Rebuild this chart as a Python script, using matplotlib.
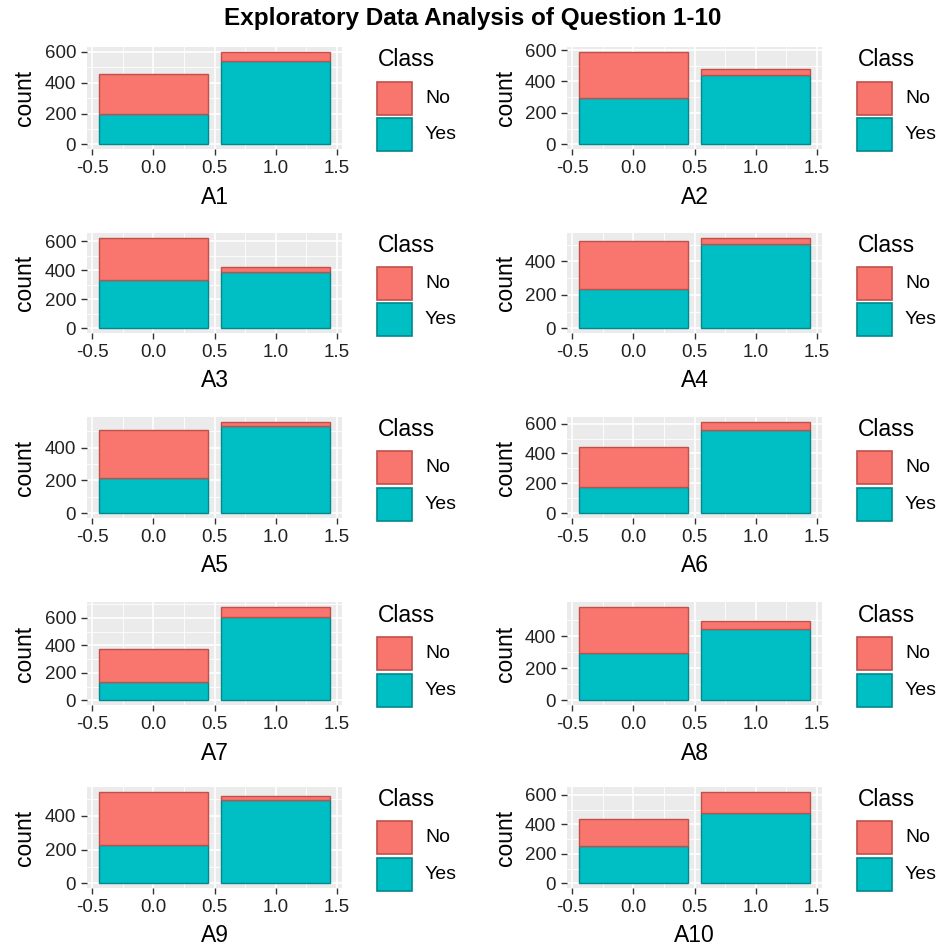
import matplotlib
matplotlib.use("Agg")
import matplotlib.pyplot as plt
from matplotlib.patches import Rectangle
import numpy as np

plt.rcParams['font.family'] = ['Liberation Sans', 'DejaVu Sans']

# ---- data (counts) ----
questions = ["A1", "A2", "A3", "A4", "A5", "A6", "A7", "A8", "A9", "A10"]
x_values = [0, 1]
yes_at_0 = [197, 294, 333, 233, 213, 174, 131, 297, 229, 254]
no_at_0 = [263, 296, 291, 291, 295, 270, 242, 288, 315, 180]
yes_at_1 = [541, 443, 388, 507, 531, 560, 605, 446, 497, 478]
no_at_1 = [61, 35, 34, 36, 27, 53, 77, 49, 20, 144]
ytick_max = [600, 600, 600, 400, 400, 600, 600, 400, 400, 600]
xtick_vals = [-0.5, 0.0, 0.5, 1.0, 1.5]
xtick_labels = ["-0.5", "0.0", "0.5", "1.0", "1.5"]
class_labels = ["No", "Yes"]

COL_NO = "#F8766D"
COL_YES = "#00BFC4"
EDGE_NO = "#C0504A"
EDGE_YES = "#00898C"

W, H = 946, 948
fig = plt.figure(figsize=(W / 100, H / 100), dpi=100)
fig.patch.set_facecolor("white")

cols = [(87, 342), (567, 822)]
rows = [(47, 149), (233, 333), (417, 518), (602, 705), (787, 888)]

def fxy(px, py):
    return px / W, 1 - py / H

for i, q in enumerate(questions):
    r, c = divmod(i, 2)
    x0, x1 = cols[c]
    y0, y1 = rows[r]
    ax = fig.add_axes([x0 / W, 1 - y1 / H, (x1 - x0) / W, (y1 - y0) / H])
    ax.set_facecolor("#EBEBEB")
    for s in ax.spines.values():
        s.set_visible(False)
    yes = [yes_at_0[i], yes_at_1[i]]
    no = [no_at_0[i], no_at_1[i]]
    tot = [a + b for a, b in zip(yes, no)]
    ax.bar(x_values, yes, width=0.9, color=COL_YES, edgecolor=EDGE_YES, linewidth=1.0, zorder=3)
    ax.bar(x_values, no, bottom=yes, width=0.9, color=COL_NO, edgecolor=EDGE_NO, linewidth=1.0, zorder=3)
    m = max(tot)
    ax.set_ylim(-0.05 * m, 1.05 * m)
    ax.set_xlim(-0.545, 1.545)
    yt = list(range(0, ytick_max[i] + 1, 200))
    ax.set_yticks(yt)
    ax.set_yticklabels([str(v) for v in yt])
    ymin = [v + 100 for v in yt if v + 100 < 1.05 * m]
    ax.set_yticks(ymin, minor=True)
    ax.set_xticks(xtick_vals)
    ax.set_xticklabels(xtick_labels)
    ax.set_xticks([-0.25, 0.25, 0.75, 1.25], minor=True)
    ax.grid(which="major", color="white", linewidth=1.2, zorder=0)
    ax.grid(which="minor", color="white", linewidth=0.6, zorder=0)
    ax.set_axisbelow(True)
    ax.tick_params(which="major", length=4.2, width=1.0, color="#333333",
                   labelsize=13.5, labelcolor="#222222", pad=3.6)
    ax.tick_params(which="minor", length=0)

    # axis titles
    cx = (x0 + x1) / 2
    cy = (y0 + y1) / 2
    fig.text(*fxy(cx, y1 + 48), q, ha="center", va="center", fontsize=16.5, color="black")
    fig.text(*fxy(x0 - 62, cy), "count", ha="center", va="center", rotation=90,
             fontsize=16.5, color="black")

    # legend
    kx = x1 + 35
    fig.text(*fxy(x1 + 36, cy - 38), "Class", ha="left", va="center", fontsize=16.5, color="black")
    key_tops = [cy - 16.3, cy + 20.3]
    for lab, kt, fc, ec in zip(class_labels, key_tops, [COL_NO, COL_YES], [EDGE_NO, EDGE_YES]):
        fig.add_artist(Rectangle(fxy(kx, kt + 33), 35 / W, 33 / H, transform=fig.transFigure,
                                 facecolor=fc, edgecolor=ec, linewidth=1.2))
        fig.text(*fxy(x1 + 83, kt + 16.5), lab, ha="left", va="center", fontsize=14, color="black")

fig.text(*fxy(473, 18), "Exploratory Data Analysis of Question 1-10", ha="center", va="center",
         fontsize=17.5, fontweight="bold", color="black")

fig.savefig("out.png", dpi=100)
